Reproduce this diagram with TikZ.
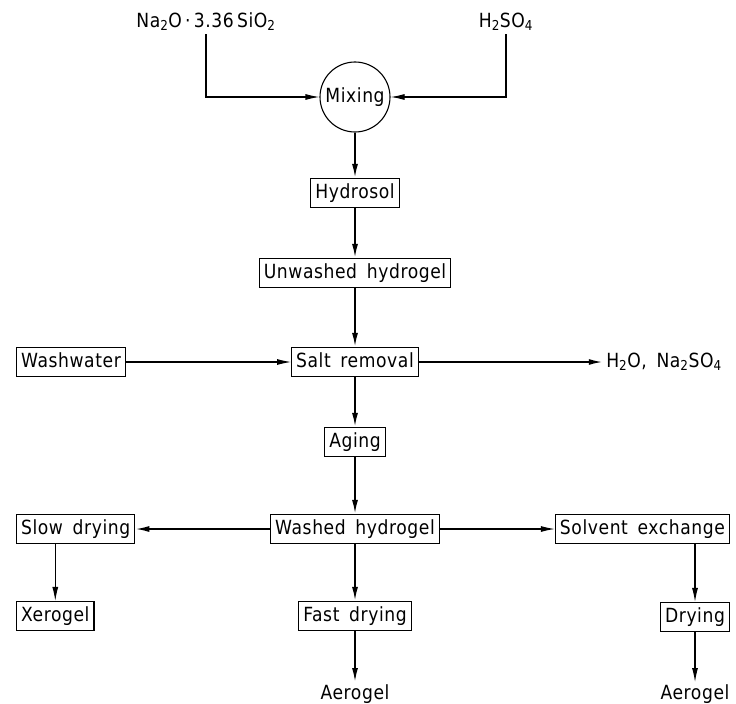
\documentclass[tikz,border=0pt]{standalone}
\usepackage{fontspec}
\setmainfont{DejaVu Sans}[FakeStretch=0.88, LetterSpace=3, WordSpace=1.6]
\usetikzlibrary{positioning,arrows.meta}

\begin{document}
\begin{tikzpicture}[x=1bp, y=-1bp,
    every node/.style={font=\fontsize{19.5bp}{23bp}\selectfont},
    stepbox/.style={draw, line width=1.1bp, minimum height=29bp, inner xsep=4.5bp, inner ysep=0pt, text height=14bp, text depth=4bp},
    product/.style={inner sep=2bp},
    flow/.style={line width=1.1bp, -{Latex[length=14bp,width=6bp]}},
    mainflow/.style={flow, line width=1.8bp}]
\useasboundingbox (0,0) rectangle (736,704);

% Raw materials and mixing
\node (soda) at (206,22) {Na\textsubscript{2}O\,·\,3.36\,SiO\textsubscript{2}};
\node (acid) at (506,22) {H\textsubscript{2}SO\textsubscript{4}};
\node[draw,circle,line width=1.1bp,minimum size=70bp,inner sep=0pt] (mix) at (355,97) {Mixing};

% Main column
\node[stepbox] (sol) at (355,193) {Hydrosol};
\node[stepbox] (unw) at (355,273) {Unwashed hydrogel};
\node[stepbox] (salt) at (355,362) {Salt removal};
\node[stepbox] (aging) at (355,442) {Aging};
\node[stepbox] (washed) at (355,529) {Washed hydrogel};
\node[stepbox] (fast) at (355,616) {Fast drying};

% Side branches
\node[stepbox,anchor=west] (wash) at (16,362) {Washwater};
\node (h2o) at (664,362) {H\textsubscript{2}O, Na\textsubscript{2}SO\textsubscript{4}};
\node[stepbox,anchor=west] (slow) at (16,529) {Slow drying};
\node[stepbox,anchor=west] (xero) at (16,616) {Xerogel};
\node[stepbox,anchor=east] (solv) at (730,529) {Solvent exchange};
\node[stepbox,anchor=east] (dry) at (730,617) {Drying};

% Products
\node[product,below=51bp of fast] (aeroA) {Aerogel};
\node[product,below=50bp of dry] (aeroB) {Aerogel};

% Feeds into the mixer
\draw[flow] (soda.south) |- (mix);
\draw[flow] (acid.south) |- (mix);

% Main flow
\draw[mainflow] (mix) -- (sol);
\draw[mainflow] (sol) -- (unw);
\draw[mainflow] (unw) -- (salt);
\draw[mainflow] (salt) -- (aging);
\draw[mainflow] (aging) -- (washed);
\draw[mainflow] (washed) -- (fast);
\draw[mainflow] (fast) -- (aeroA);

% Washing
\draw[flow] (wash) -- (salt);
\draw[mainflow] (salt) -- (h2o);

% Drying routes
\draw[mainflow] (washed) -- (slow);
\draw[flow] (washed) -- (solv);
\draw[flow] (slow.south -| xero) -- (xero);
\draw[flow] (solv.south -| dry) -- (dry);
\draw[flow] (dry) -- (aeroB);

\end{tikzpicture}
\end{document}
